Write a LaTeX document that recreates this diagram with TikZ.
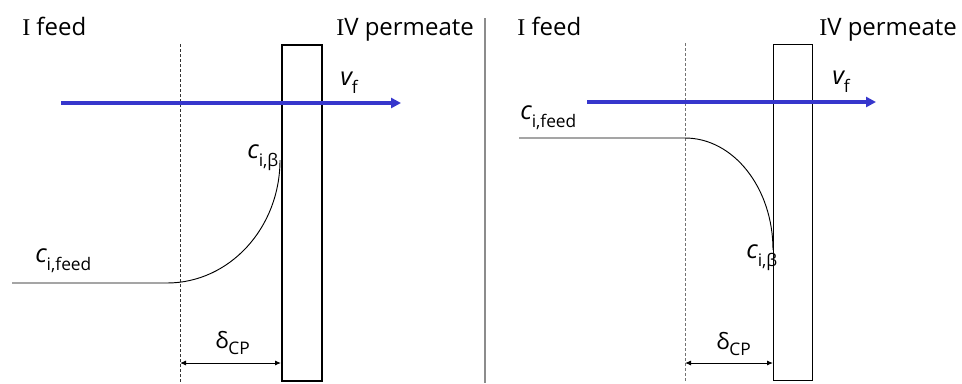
\documentclass[tikz,border=0pt]{standalone}
\usepackage{fontspec}
\setmainfont{Open Sans}
\newfontfamily\numfont{Liberation Serif}
\usetikzlibrary{arrows.meta}
\definecolor{flowblue}{RGB}{54,54,204}
\newcommand{\hdr}[2]{\fontsize{18}{20}\selectfont #1 #2}
\newcommand{\romI}{{\numfont I}}
\newcommand{\conc}[2]{{\fontsize{19}{20}\selectfont\itshape #1}\raisebox{-6.5pt}{\fontsize{13}{14}\selectfont #2}}
\newcommand{\dcp}{{\fontsize{17}{18}\selectfont δ}\raisebox{-5pt}{\fontsize{13}{14}\selectfont CP}}
\tikzset{
  lab/.style={inner sep=0pt, anchor=base west},
  membrane/.style={draw=black, fill=none},
  cpline/.style={dash pattern=on 2.25pt off 1.5pt, line width=0.6pt},
  flow/.style={draw=flowblue, line width=2.6pt, -{Triangle[length=7.5pt,width=7.5pt]}},
  profile/.style={draw=black, line width=0.7pt},
  dim/.style={draw=black, line width=0.7pt, {Latex[length=4.5pt,width=3.75pt]}-{Latex[length=4.5pt,width=3.75pt]}},
}
\begin{document}
\begin{tikzpicture}[x=0.75pt,y=-0.75pt]
\useasboundingbox (0,0) rectangle (962,383);
% divider
\draw[black!45, line width=1pt] (485,18) -- (485,383);

% ---------- left panel ----------
\node[lab] (lfeed) at (22,35) {\hdr{\romI}{feed}};
\node[lab] (lperm) at (336,35) {\hdr{\romI V}{permeate}};
\coordinate (lcpT) at (180,44);
\coordinate (lcpB) at (180,383);
\draw[cpline, black!80] (lcpT) -- (lcpB);
\node[membrane, line width=1.5pt, minimum width=30pt, minimum height=252pt, inner sep=0pt, anchor=north west] (lmem) at (281,44) {};
\coordinate (lflowA) at (61,103);
\coordinate (lflowB) at (401,103);
\draw[flow] (lflowA) -- (lflowB);
\node[lab] (lvf) at (340,85) {\conc{v}{f}};
\coordinate (lprofA) at (12,283);
\coordinate (lprofB) at (167,283);
\coordinate (lprofC) at (280,160);
\draw[profile] (lprofA) -- (lprofB) .. controls (229.4,283) and (280,228) .. (lprofC);
\node[lab] (lcb) at (247,158) {\conc{c}{i,β}};
\node[lab] (lcf) at (35,262) {\conc{c}{i,feed}};
\coordinate (ldimA) at (180,363);
\coordinate (ldimB) at (281,363);
\draw[dim] (ldimA) -- (ldimB);
\node[lab] (ldcp) at (215,348) {\dcp};

% ---------- right panel ----------
\node[lab] (rfeed) at (517,35) {\hdr{\romI}{feed}};
\node[lab] (rperm) at (819,35) {\hdr{\romI V}{permeate}};
\coordinate (rcpT) at (685,43);
\coordinate (rcpB) at (685,383);
\draw[cpline, black!55] (rcpT) -- (rcpB);
\node[membrane, line width=1pt, minimum width=29.25pt, minimum height=252pt, inner sep=0pt, anchor=north west] (rmem) at (773,44) {};
\coordinate (rflowA) at (587,102);
\coordinate (rflowB) at (876,102);
\draw[flow] (rflowA) -- (rflowB);
\node[lab] (rvf) at (832,84) {\conc{v}{f}};
\coordinate (rprofA) at (519,138);
\coordinate (rprofB) at (685,138);
\coordinate (rprofC) at (773,250);
\draw[profile] (rprofA) -- (rprofB) .. controls (733.6,138) and (773,188.1) .. (rprofC);
\node[lab] (rcf) at (520,119) {\conc{c}{i,feed}};
\node[lab] (rcb) at (746,258) {\conc{c}{i,β}};
\coordinate (rdimA) at (685,363);
\coordinate (rdimB) at (773,363);
\draw[dim] (rdimA) -- (rdimB);
\node[lab] (rdcp) at (716,349) {\dcp};
\end{tikzpicture}
\end{document}
